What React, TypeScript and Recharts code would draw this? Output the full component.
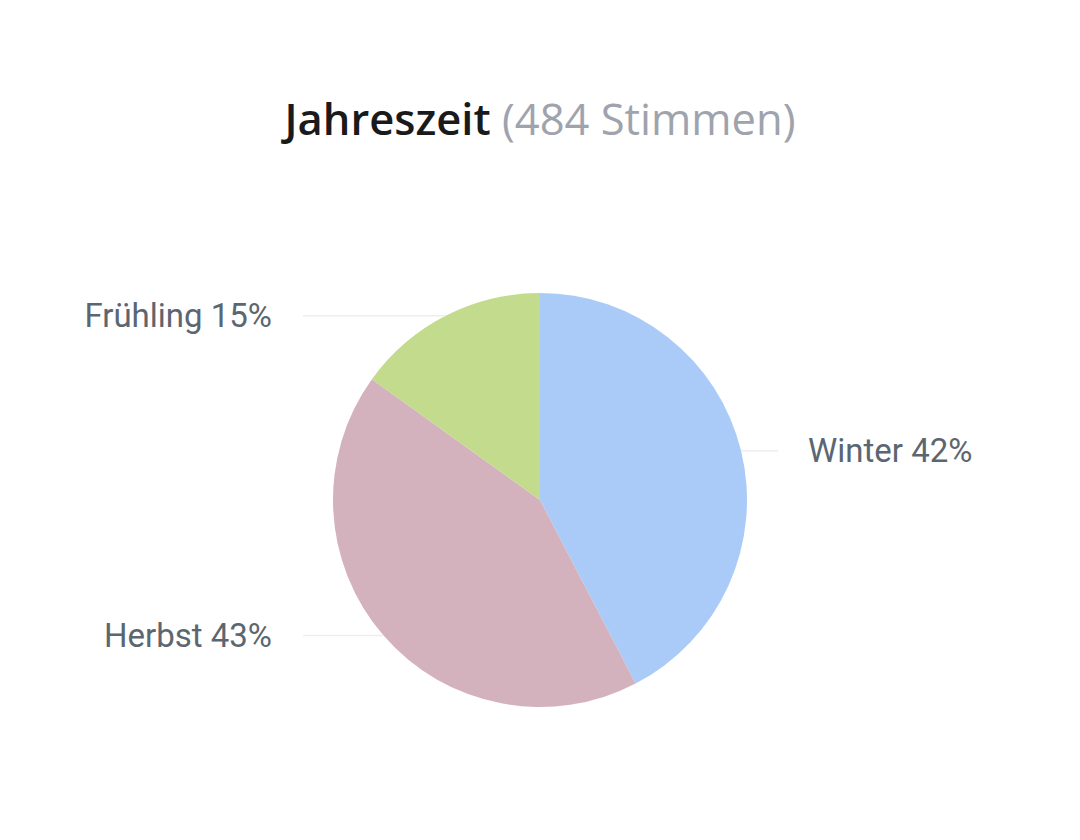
import React from 'react';
import { PieChart, Pie, Cell } from 'recharts';

const seasons = ['Winter', 'Herbst', 'Frühling'];
const votes = [205, 206, 73];
const sliceColors = ['#aacbf8', '#d4b2bd', '#c3db8d'];
const totalVotes = 484;

const data = seasons.map((name, i) => ({ name, value: votes[i] }));

const RAD = Math.PI / 180;

function renderLabel(props: any) {
  const { cx, cy, midAngle, outerRadius, percent, name } = props;
  const x = cx + outerRadius * Math.cos(-midAngle * RAD);
  const y = cy + outerRadius * Math.sin(-midAngle * RAD);
  const right = x > cx;
  const lineEnd = right ? cx + 238 : cx - 237;
  const textX = right ? cx + 268 : cx - 268;
  return (
    <g>
      <line x1={x} y1={y} x2={lineEnd} y2={y} stroke="#eeeeee" strokeWidth={1.5} />
      <text
        x={textX}
        y={y}
        textAnchor={right ? 'start' : 'end'}
        dominantBaseline="central"
        fontFamily="Roboto"
        fontSize={33}
        fill="#5c6670"
      >
        {`${name} ${Math.round(percent * 100)}%`}
      </text>
    </g>
  );
}

export default function App() {
  return (
    <div style={{ position: 'absolute', top: 0, left: 0, width: 1080, height: 840, background: '#fff' }}>
      <div
        style={{
          position: 'absolute',
          top: 89,
          left: 0,
          width: 1080,
          textAlign: 'center',
          fontFamily: '"Open Sans"',
          fontSize: 43.5,
          lineHeight: '60px',
          whiteSpace: 'nowrap',
        }}
      >
        <span style={{ fontWeight: 600, color: '#1a1a1a' }}>Jahreszeit</span>{' '}
        <span style={{ fontWeight: 400, color: '#9ea3ad' }}>({totalVotes} Stimmen)</span>
      </div>
      <div style={{ position: 'absolute', top: 0, left: 0 }}>
        <PieChart width={1080} height={840}>
          <Pie
            data={data}
            dataKey="value"
            nameKey="name"
            cx={535}
            cy={495}
            outerRadius={207}
            startAngle={90}
            endAngle={-270}
            stroke="none"
            labelLine={false}
            label={renderLabel}
            isAnimationActive={false}
          >
            {data.map((entry, index) => (
              <Cell key={`cell-${index}`} fill={sliceColors[index]} />
            ))}
          </Pie>
        </PieChart>
      </div>
    </div>
  );
}
